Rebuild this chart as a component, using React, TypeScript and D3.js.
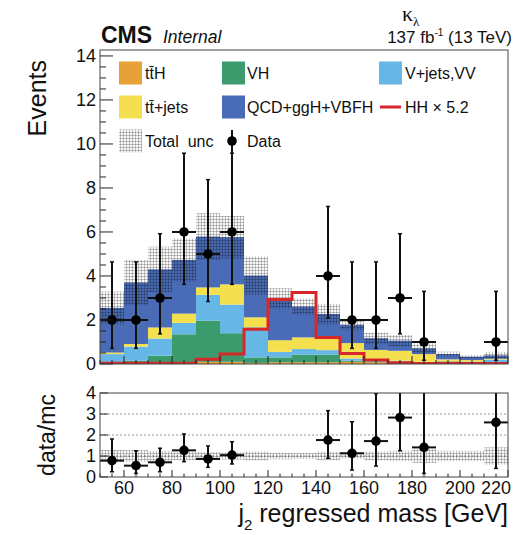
import React from 'react';
import * as d3 from 'd3';

// ---------- data ----------
const binEdges = [50, 60, 70, 80, 90, 100, 110, 120, 130, 140, 150, 160, 170, 180, 190, 200, 210, 220];
const ttH = [0.03, 0.03, 0.08, 0.05, 0.10, 0.10, 0.05, 0.08, 0.08, 0.08, 0.10, 0.08, 0.06, 0.04, 0.12, 0.10, 0.04];
const VH = [0.05, 0.12, 0.30, 1.30, 1.87, 1.30, 0.25, 0.22, 0.35, 0.35, 0.05, 0.04, 0.04, 0.02, 0.01, 0.01, 0.02];
const Vjets = [0.37, 0.64, 0.78, 0.52, 1.17, 1.30, 1.37, 0.25, 0.25, 0.20, 0.10, 0.06, 0.05, 0.04, 0.01, 0.01, 0.14];
const ttjets = [0.07, 0.12, 0.50, 0.42, 0.34, 0.92, 0.45, 0.53, 0.53, 0.54, 0.70, 0.46, 0.45, 0.35, 0.07, 0.06, 0.04];
const QCD = [2.03, 2.79, 2.64, 2.44, 2.31, 2.14, 1.90, 1.90, 1.40, 1.10, 0.82, 0.53, 0.46, 0.26, 0.24, 0.15, 0.15];
const mcUnc = [0.74, 1.03, 1.03, 0.98, 1.06, 0.97, 0.86, 0.46, 0.37, 0.46, 0.23, 0.25, 0.26, 0.23, 0.11, 0.08, 0.16];
const HH = [0.03, 0.03, 0.03, 0.03, 0.22, 0.45, 1.58, 2.93, 3.25, 1.20, 0.48, 0.18, 0.06, 0.02, 0.02, 0.02, 0.02];

const dataVal = [2, 2, 3, 6, 5, 6, null, null, null, 4, 2, 2, 3, 1, null, null, 1];
const dataLo = [0.71, 0.71, 1.37, 3.62, 2.84, 3.62, null, null, null, 2.09, 0.71, 0.71, 1.37, 0.17, null, null, 0.17];
const dataHi = [4.64, 4.64, 5.92, 9.58, 8.38, 9.58, null, null, null, 7.16, 4.64, 4.64, 5.92, 3.30, null, null, 3.30];

const ratioVal = [0.78, 0.54, 0.70, 1.27, 0.86, 1.04, null, null, null, 1.76, 1.13, 1.71, 2.83, 1.41, null, null, 2.60];
const ratioLo = [0.25, 0.17, 0.25, 0.73, 0.46, 0.62, null, null, null, 0.89, 0.33, 0.52, 1.25, 0.17, null, null, 0.41];
const ratioHi = [1.81, 1.25, 1.37, 2.05, 1.48, 1.68, null, null, null, 3.16, 2.63, 3.97, 5.60, 4.60, null, null, 8.50];

const mainYTicks = [0, 2, 4, 6, 8, 10, 12, 14];
const ratioYTicks = [0, 1, 2, 3, 4];
const xTickLabels = [60, 80, 100, 120, 140, 160, 180, 200, 220];

const layerKeys = ['ttH', 'VH', 'Vjets', 'ttjets', 'QCD'];
const layerColors: Record<string, string> = {
  ttH: '#e8a136',
  VH: '#3b9b6c',
  Vjets: '#66b7e6',
  ttjets: '#f4e04f',
  QCD: '#4a6bb5',
};
const hhColor = '#d6282b';

const FONT = '"Liberation Sans", Arial, Helvetica, sans-serif';

export default function App() {
  const W = 519, H = 535;
  const L = 100, R = 508, T = 50, B = 364;
  const RT = 393, RB = 477;
  const x = d3.scaleLinear().domain([50, 220]).range([L, R]);
  const y = d3.scaleLinear().domain([0, 14.27]).range([B, T]);
  const yr = d3.scaleLinear().domain([0, 4]).range([RB, RT]);

  const nb = binEdges.length - 1;
  const rows = d3.range(nb).map((i) => ({
    ttH: ttH[i], VH: VH[i], Vjets: Vjets[i], ttjets: ttjets[i], QCD: QCD[i],
  }));
  const stack = d3.stack<any>().keys(layerKeys)(rows);
  const total = rows.map((r) => layerKeys.reduce((s, k) => s + (r as any)[k], 0));

  const hhPts: [number, number][] = [[binEdges[0], 0]];
  for (let i = 0; i < nb; i++) hhPts.push([binEdges[i], HH[i]]);
  hhPts.push([binEdges[nb], HH[nb - 1]]);
  hhPts.push([binEdges[nb], 0]);
  const hhLine = d3.line<[number, number]>().x((d) => x(d[0])).y((d) => y(d[1])).curve(d3.curveStepAfter);

  const mainMinor = d3.range(0, 14.01, 0.5);
  const xMinor = d3.range(50, 220.01, 5);
  const xMajor = d3.range(60, 220.01, 20);

  const legendText = { fontFamily: FONT, fontSize: 16, fill: '#111' } as const;
  const c1 = 119, c2 = 222, c3 = 379, sw = 23;
  const r1 = 73, r2 = 107, r3 = 141;
  const cx = (i: number) => x((binEdges[i] + binEdges[i + 1]) / 2);

  return (
    <svg width={W} height={H} style={{ position: 'absolute', left: 0, top: 0, background: '#fff' }}>
      <defs>
        <pattern id="hatch" width={3} height={3} patternUnits="userSpaceOnUse">
          <rect width={3} height={3} fill="#000" fillOpacity={0.03} />
          <path d="M0,0.5H3M0.5,0V3" stroke="#000" strokeOpacity={0.22} strokeWidth={1} fill="none" />
        </pattern>
        <clipPath id="mainClip"><rect x={L} y={T} width={R - L} height={B - T} /></clipPath>
        <clipPath id="ratioClip"><rect x={L} y={RT} width={R - L} height={RB - RT} /></clipPath>
      </defs>

      {/* header */}
      <text x={101} y={43} fontFamily={FONT} fontWeight="bold" fontSize={23} fill="#111">CMS</text>
      <text x={163} y={43} fontFamily={FONT} fontStyle="italic" fontSize={17.5} fill="#111">Internal</text>
      <text x={512} y={43} textAnchor="end" fontFamily={FONT} fontSize={17} fill="#111">
        137 fb<tspan fontSize={10} dy={-7}>-1</tspan><tspan dy={7}> (13 TeV)</tspan>
      </text>
      <text x={402} y={21} fontFamily='"Liberation Serif", "DejaVu Serif", serif' fontSize={22} fill="#111">
        κ<tspan fontSize={13} dy={5}>λ</tspan>
      </text>

      {/* main stack */}
      <g clipPath="url(#mainClip)">
        {stack.map((layer) => (
          <g key={layer.key}>
            {layer.map((d, i) => (
              <rect key={i} x={x(binEdges[i])} width={x(binEdges[i + 1]) - x(binEdges[i])}
                y={y(d[1])} height={Math.max(0, y(d[0]) - y(d[1]))} fill={layerColors[layer.key]} />
            ))}
          </g>
        ))}
        {total.map((t, i) => (
          <rect key={'u' + i} x={x(binEdges[i])} width={x(binEdges[i + 1]) - x(binEdges[i])}
            y={y(t + mcUnc[i])} height={y(Math.max(0, t - mcUnc[i])) - y(t + mcUnc[i])} fill="url(#hatch)" />
        ))}
        <path d={hhLine(hhPts) || ''} fill="none" stroke={hhColor} strokeWidth={3} />
        {dataVal.map((v, i) => v === null ? null : (
          <g key={'d' + i}>
            <line x1={x(binEdges[i])} x2={x(binEdges[i + 1])} y1={y(v)} y2={y(v)} stroke="#111" strokeWidth={2} />
            <line x1={cx(i)} x2={cx(i)} y1={y(dataLo[i] as number)} y2={y(dataHi[i] as number)} stroke="#111" strokeWidth={2} />
            <line x1={cx(i) - 2} x2={cx(i) + 2} y1={y(dataHi[i] as number)} y2={y(dataHi[i] as number)} stroke="#111" strokeWidth={1.5} />
            <line x1={cx(i) - 2} x2={cx(i) + 2} y1={y(dataLo[i] as number)} y2={y(dataLo[i] as number)} stroke="#111" strokeWidth={1.5} />
            <circle cx={cx(i)} cy={y(v)} r={4.8} fill="#000" />
          </g>
        ))}
      </g>

      {/* main axes ticks */}
      {mainMinor.map((v) => {
        const major = Math.abs(v / 2 - Math.round(v / 2)) < 1e-6;
        return <line key={'my' + v} x1={L} x2={L + (major ? 13 : 6)} y1={y(v)} y2={y(v)} stroke="#222" strokeWidth={1} />;
      })}
      {xMinor.map((v) => {
        const major = xMajor.some((m) => Math.abs(m - v) < 1e-6);
        return <line key={'mx' + v} x1={x(v)} x2={x(v)} y1={B} y2={B - (major ? 8 : 4)} stroke="#222" strokeWidth={1} />;
      })}
      {mainYTicks.map((v) => (
        <text key={'myl' + v} x={96} y={y(v)} dy="0.36em" textAnchor="end" fontFamily={FONT} fontSize={18} fill="#111">{v}</text>
      ))}
      <rect x={L} y={T} width={R - L} height={B - T} fill="none" stroke="#444" strokeWidth={1} />
      <text transform={`translate(46,60) rotate(-90)`} textAnchor="end" fontFamily={FONT} fontSize={25} fill="#111">Events</text>

      {/* legend */}
      <rect x={c1} y={r1 - sw / 2} width={sw} height={sw} fill={layerColors.ttH} />
      <text x={145} y={r1 + 6} {...legendText}>t{'t\u0304'}H</text>
      <rect x={c2} y={r1 - sw / 2} width={sw} height={sw} fill={layerColors.VH} />
      <text x={247} y={r1 + 6} {...legendText}>VH</text>
      <rect x={c3} y={r1 - sw / 2} width={sw} height={sw} fill={layerColors.Vjets} />
      <text x={405} y={r1 + 6} {...legendText}>V+jets,VV</text>

      <rect x={c1} y={r2 - sw / 2} width={sw} height={sw} fill={layerColors.ttjets} />
      <text x={145} y={r2 + 6} {...legendText}>t{'t\u0304'}+jets</text>
      <rect x={c2} y={r2 - sw / 2} width={sw} height={sw} fill={layerColors.QCD} />
      <text x={247} y={r2 + 6} {...legendText}>QCD+ggH+VBFH</text>
      <line x1={380} x2={401} y1={r2} y2={r2} stroke={hhColor} strokeWidth={3} />
      <text x={405} y={r2 + 6} {...legendText}>HH × 5.2</text>

      <rect x={c1} y={r3 - sw / 2} width={sw} height={sw} fill="url(#hatch)" />
      <text x={145} y={r3 + 6} {...legendText}>{'Total\u00a0\u00a0unc'}</text>
      <line x1={232} x2={232} y1={130} y2={153} stroke="#111" strokeWidth={2} />
      <circle cx={232} cy={r3} r={4.8} fill="#000" />
      <text x={247} y={r3 + 6} {...legendText}>Data</text>

      {/* ratio panel */}
      {[1, 2, 3].map((v) => (
        <line key={'g' + v} x1={L} x2={R} y1={yr(v)} y2={yr(v)} stroke="#999" strokeWidth={1} strokeDasharray="2,2" />
      ))}
      <g clipPath="url(#ratioClip)">
        {total.map((t, i) => (
          <rect key={'ru' + i} x={x(binEdges[i])} width={x(binEdges[i + 1]) - x(binEdges[i])}
            y={yr(1 + mcUnc[i] / t)} height={yr(1 - mcUnc[i] / t) - yr(1 + mcUnc[i] / t)} fill="url(#hatch)" />
        ))}
        {ratioVal.map((v, i) => v === null ? null : (
          <g key={'r' + i}>
            <line x1={x(binEdges[i])} x2={x(binEdges[i + 1])} y1={yr(v)} y2={yr(v)} stroke="#111" strokeWidth={2} />
            <line x1={cx(i)} x2={cx(i)} y1={yr(ratioLo[i] as number)} y2={yr(ratioHi[i] as number)} stroke="#111" strokeWidth={2} />
            <line x1={cx(i) - 2} x2={cx(i) + 2} y1={yr(ratioHi[i] as number)} y2={yr(ratioHi[i] as number)} stroke="#111" strokeWidth={1.5} />
            <line x1={cx(i) - 2} x2={cx(i) + 2} y1={yr(ratioLo[i] as number)} y2={yr(ratioLo[i] as number)} stroke="#111" strokeWidth={1.5} />
            <circle cx={cx(i)} cy={yr(v)} r={4.8} fill="#000" />
          </g>
        ))}
      </g>
      {ratioYTicks.map((v) => (
        <g key={'ry' + v}>
          <line x1={L} x2={L + 8} y1={yr(v)} y2={yr(v)} stroke="#222" strokeWidth={1} />
          <text x={96} y={yr(v)} dy="0.36em" textAnchor="end" fontFamily={FONT} fontSize={18} fill="#111">{v}</text>
        </g>
      ))}
      {xMinor.map((v) => {
        const major = xMajor.some((m) => Math.abs(m - v) < 1e-6);
        return <line key={'rx' + v} x1={x(v)} x2={x(v)} y1={RB} y2={RB - (major ? 7 : 3.5)} stroke="#222" strokeWidth={1} />;
      })}
      {xTickLabels.map((v, i) => (
        <text key={'xl' + v} x={i === xTickLabels.length - 1 ? 511 : x(v)} y={494}
          textAnchor={i === xTickLabels.length - 1 ? 'end' : 'middle'} fontFamily={FONT} fontSize={18} fill="#111">{v}</text>
      ))}
      <rect x={L} y={RT} width={R - L} height={RB - RT} fill="none" stroke="#444" strokeWidth={1} />
      <text transform={`translate(55,435) rotate(-90)`} textAnchor="middle" fontFamily={FONT} fontSize={23} fill="#111">data/mc</text>
      <text x={508} y={522} textAnchor="end" fontFamily={FONT} fontSize={25} fill="#111">
        j<tspan fontSize={15} dy={8}>2</tspan><tspan dy={-8}> regressed mass [GeV]</tspan>
      </text>
    </svg>
  );
}
